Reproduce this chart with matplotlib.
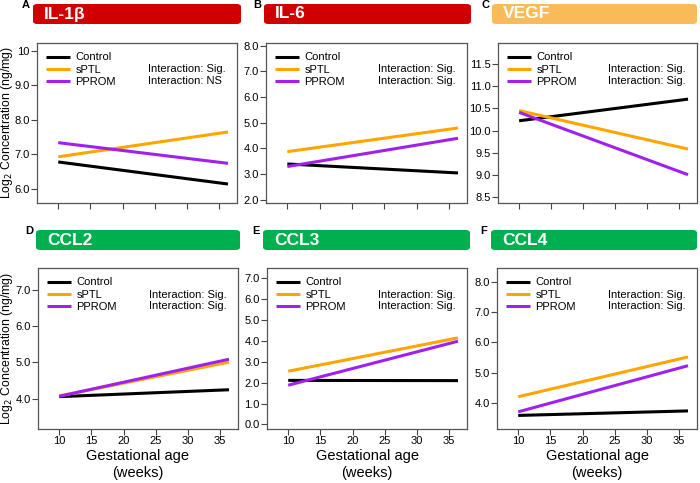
import matplotlib
matplotlib.use("Agg")
import matplotlib.pyplot as plt
from matplotlib.patches import FancyBboxPatch

plt.rcParams['font.family'] = ['Liberation Sans', 'DejaVu Sans']

W, H = 700, 483

ga = [10, 36.4]
groups = ["Control", "sPTL", "PPROM"]
colors = ["black", "#FFA500", "#A020F0"]

titles = ["IL-1β", "IL-6", "VEGF", "CCL2", "CCL3", "CCL4"]
letters = ["A", "B", "C", "D", "E", "F"]
bar_colors = ["#D00000", "#D00000", "#F9BA5A", "#00AF4F", "#00AF4F", "#00AF4F"]

il1b = [[6.78, 6.14], [6.93, 7.65], [7.34, 6.74]]
il6 = [[3.39, 3.04], [3.87, 4.79], [3.29, 4.39]]
vegf = [[10.22, 10.71], [10.45, 9.58], [10.41, 9.00]]
ccl2 = [[4.06, 4.25], [4.08, 5.01], [4.07, 5.09]]
ccl3 = [[2.11, 2.10], [2.55, 4.15], [1.88, 3.99]]
ccl4 = [[3.58, 3.73], [4.20, 5.52], [3.70, 5.23]]
data = [il1b, il6, vegf, ccl2, ccl3, ccl4]

interaction = [["Interaction: Sig.", "Interaction: NS"]] + [["Interaction: Sig.", "Interaction: Sig."]] * 5

yticks = [[6, 7, 8, 9, 10], [2, 3, 4, 5, 6, 7, 8], [8.5, 9, 9.5, 10, 10.5, 11, 11.5],
          [4, 5, 6, 7], [0, 1, 2, 3, 4, 5, 6, 7], [4, 5, 6, 7, 8]]
ytick_labels = [["6.0", "7.0", "8.0", "9.0", "10"],
                ["2.0", "3.0", "4.0", "5.0", "6.0", "7.0", "8.0"],
                ["8.5", "9.0", "9.5", "10.0", "10.5", "11.0", "11.5"],
                ["4.0", "5.0", "6.0", "7.0"],
                ["0.0", "1.0", "2.0", "3.0", "4.0", "5.0", "6.0", "7.0"],
                ["4.0", "5.0", "6.0", "7.0", "8.0"]]
ylims = [(5.59, 10.23), (1.87, 8.1), (8.36, 11.98), (3.17, 7.6), (-0.22, 7.5), (3.13, 8.47)]
xticks = [10, 15, 20, 25, 30, 35]

# axes boxes in pixels: left, top, right, bottom
boxes = [(37, 43, 237, 203), (266, 43, 467, 203), (498, 43, 697, 203),
         (38, 268, 238, 429), (267, 268, 467, 429), (497, 268, 697, 429)]
bars = [(33, 4, 241, 24), (264, 4, 471, 24), (492, 4, 697, 24),
        (36, 230, 240, 250), (263, 230, 470, 250), (491, 230, 697, 250)]

fig = plt.figure(figsize=(W / 100, H / 100), dpi=100)

for i in range(6):
    l, t, r, b = boxes[i]
    ax = fig.add_axes([l / W, 1 - b / H, (r - l) / W, (b - t) / H])
    for g in range(3):
        ax.plot(ga, data[i][g], color=colors[g], lw=2.2, label=groups[g], solid_capstyle='butt')
    ax.set_xlim(6.7, 37.8)
    ax.set_ylim(*ylims[i])
    ax.set_xticks(xticks)
    ax.set_yticks(yticks[i])
    ax.set_yticklabels(ytick_labels[i])
    if i < 3:
        ax.set_xticklabels([])
    else:
        ax.set_xlabel("Gestational age\n(weeks)", fontsize=10.5, labelpad=2, linespacing=1.25)
    ax.tick_params(labelsize=8, length=4, width=0.8, color="#444444", pad=1.2)
    for s in ax.spines.values():
        s.set_color("#555555")
        s.set_linewidth(0.9)
    if i in (0, 3):
        ax.set_ylabel("Log$_2$ Concentration (ng/mg)", fontsize=8.8, va="center")
        ax.yaxis.set_label_coords((7 - l) / (r - l), 0.5)
    ax.legend(loc="upper left", bbox_to_anchor=(0.0, 1.0), frameon=False, fontsize=8,
              handlelength=2.1, handletextpad=0.5, labelspacing=0.2, borderaxespad=0.45)
    ax.text(0.555, 0.835, interaction[i][0], transform=ax.transAxes, fontsize=8, va="center")
    ax.text(0.555, 0.765, interaction[i][1], transform=ax.transAxes, fontsize=8, va="center")

    bl, bt, br, bb = bars[i]
    patch = FancyBboxPatch((bl / W, 1 - bb / H), (br - bl) / W, (bb - bt) / H,
                           boxstyle="round,pad=0,rounding_size=0.006",
                           transform=fig.transFigure, facecolor=bar_colors[i],
                           edgecolor="none")
    fig.patches.append(patch)
    fig.text((bl + 11) / W, 1 - (bt + bb) / 2 / H, titles[i], color="white",
             fontsize=12.5, fontweight="bold", va="center", ha="left")
    fig.text((bl - 11) / W, 1 - (bt + 1) / H, letters[i], fontsize=8,
             fontweight="bold", va="center", ha="left")

fig.savefig("out.png", dpi=100)
